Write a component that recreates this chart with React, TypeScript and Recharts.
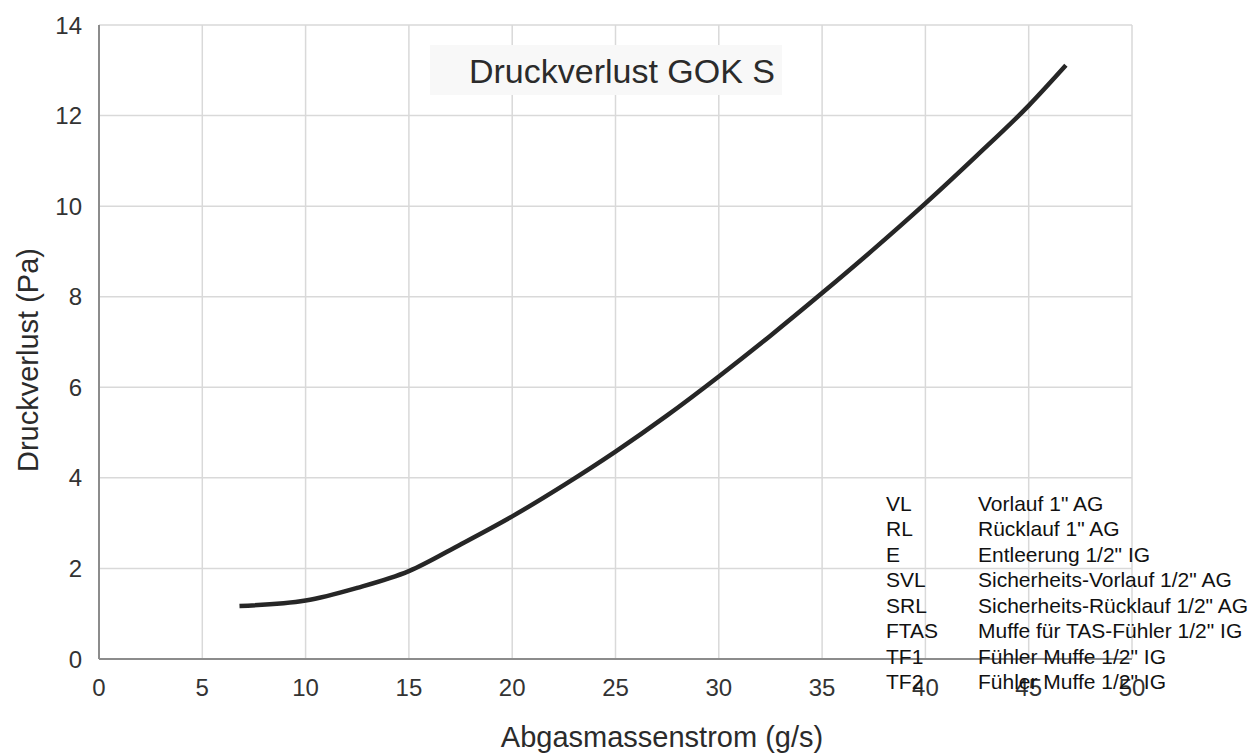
import React from 'react';
import { LineChart, Line, XAxis, YAxis, CartesianGrid } from 'recharts';

const massFlow = [6.8, 10, 12.5, 15, 17.5, 20, 22.5, 25, 27.5, 30, 32.5, 35, 37.5, 40, 42.5, 45, 46.8];
const pressureLoss = [1.17, 1.29, 1.57, 1.94, 2.53, 3.15, 3.84, 4.58, 5.38, 6.24, 7.14, 8.08, 9.05, 10.06, 11.12, 12.22, 13.11];
const xTicks = [0, 5, 10, 15, 20, 25, 30, 35, 40, 45, 50];
const yTicks = [0, 2, 4, 6, 8, 10, 12, 14];

const legendCodes = ['VL', 'RL', 'E', 'SVL', 'SRL', 'FTAS', 'TF1', 'TF2'];
const legendNames = [
  'Vorlauf 1" AG',
  'Rücklauf 1" AG',
  'Entleerung 1/2" IG',
  'Sicherheits-Vorlauf 1/2" AG',
  'Sicherheits-Rücklauf 1/2" AG',
  'Muffe für TAS-Fühler 1/2" IG',
  'Fühler Muffe 1/2" IG',
  'Fühler Muffe 1/2" IG',
];

const data = massFlow.map((x, i) => ({ x, y: pressureLoss[i] }));

const font = '"Liberation Sans", Arial, Helvetica, sans-serif';

export default function App() {
  return (
    <div style={{ position: 'absolute', left: 0, top: 0, width: 1257, height: 753, background: '#fff', fontFamily: font }}>
      <LineChart width={1257} height={753} data={data} margin={{ top: 25, right: 125, bottom: 0, left: 0 }}>
        <CartesianGrid stroke="#d9d9d9" strokeWidth={1.5} />
        <XAxis
          type="number"
          dataKey="x"
          domain={[0, 50]}
          ticks={xTicks}
          height={94}
          tickSize={0}
          tickMargin={20}
          stroke="#8c8c8c"
          strokeWidth={2}
          tick={{ fontSize: 24, fill: '#333', fontFamily: font }}
        />
        <YAxis
          type="number"
          domain={[0, 14]}
          ticks={yTicks}
          width={99}
          tickSize={0}
          tickMargin={17}
          stroke="#8c8c8c"
          strokeWidth={2}
          tick={{ fontSize: 24, fill: '#333', fontFamily: font }}
        />
        <Line
          type="monotone"
          dataKey="y"
          stroke="#262626"
          strokeWidth={4.5}
          dot={false}
          isAnimationActive={false}
        />
      </LineChart>
      <svg width={1257} height={753} style={{ position: 'absolute', left: 0, top: 0, pointerEvents: 'none' }}>
        <rect x={430} y={45} width={352} height={50} fill="#f8f8f8" />
        <text x={622} y={83} textAnchor="middle" fontSize={34} fill="#2b2b2b" fontFamily={font}>
          Druckverlust GOK S
        </text>
        <text x={662} y={747} textAnchor="middle" fontSize={29} fill="#2b2b2b" fontFamily={font}>
          Abgasmassenstrom (g/s)
        </text>
        <text transform="translate(38,360) rotate(-90)" textAnchor="middle" fontSize={29} fill="#2b2b2b" fontFamily={font}>
          Druckverlust (Pa)
        </text>
        {legendCodes.map((code, i) => (
          <g key={code + i}>
            <text x={886} y={510.5 + i * 25.5} fontSize={21} fill="#111" fontFamily={font}>
              {code}
            </text>
            <text x={978} y={510.5 + i * 25.5} fontSize={21} fill="#111" fontFamily={font}>
              {legendNames[i]}
            </text>
          </g>
        ))}
      </svg>
    </div>
  );
}
